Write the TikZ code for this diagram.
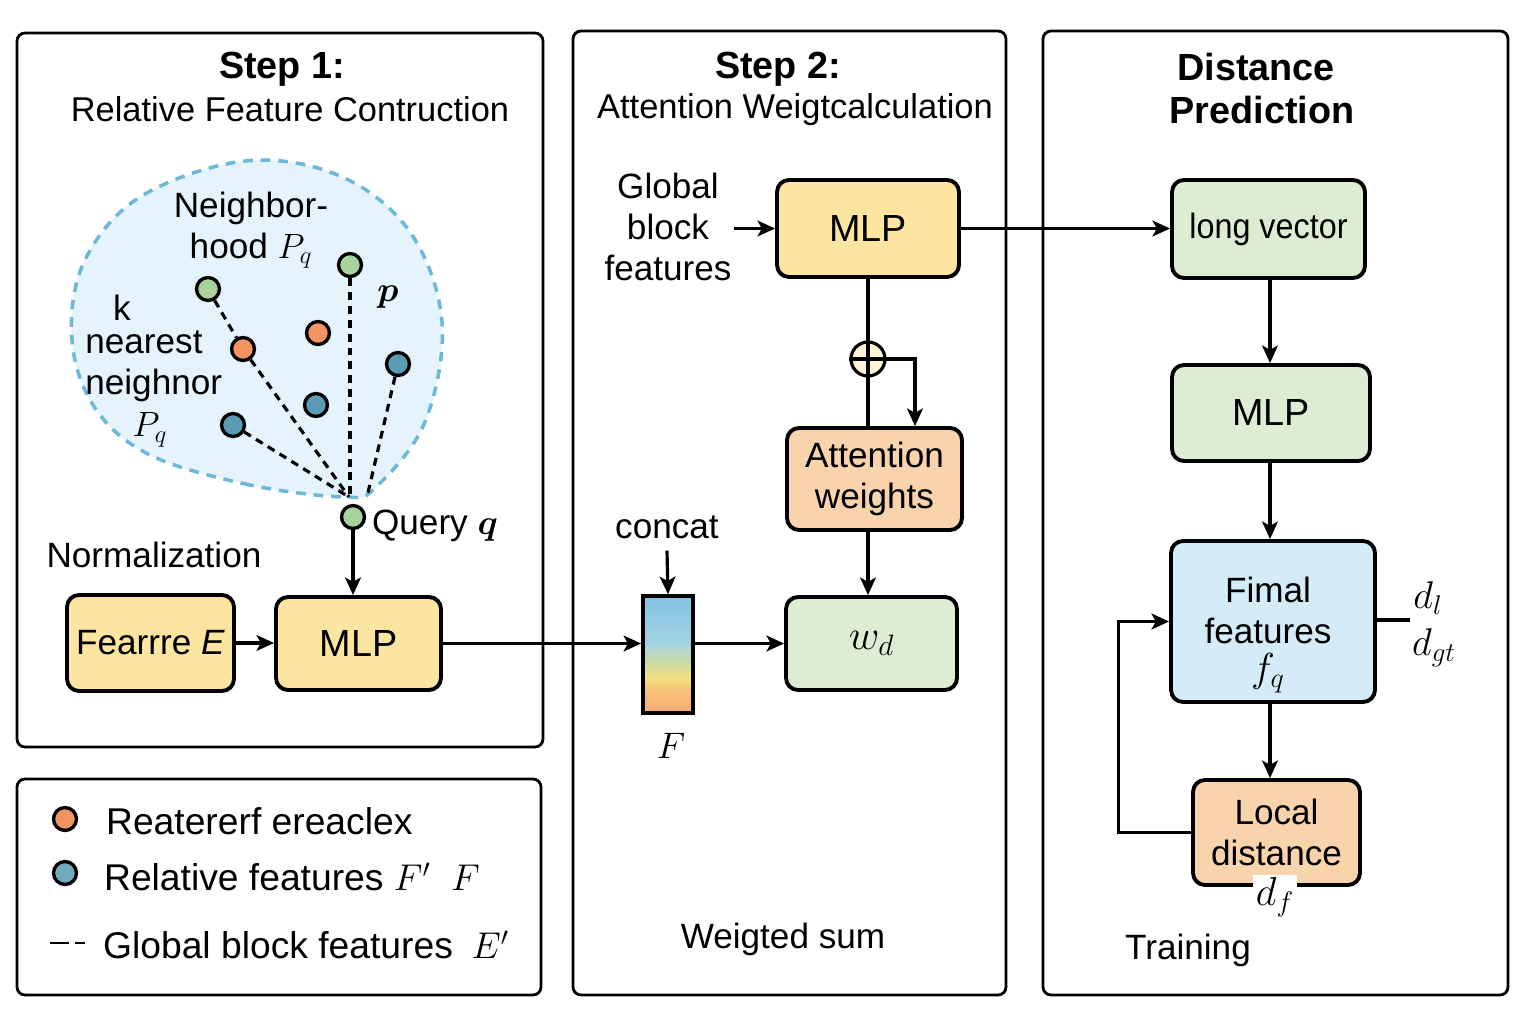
\RequirePackage{fix-cm}
\documentclass[tikz,border=0pt]{standalone}
\usepackage{amsmath}
\usepackage[no-math]{fontspec}
\setmainfont{Liberation Sans}
\usetikzlibrary{arrows.meta,calc}
\definecolor{cyel}{HTML}{FCE5A0}
\definecolor{cgrn}{HTML}{DDEDD3}
\definecolor{cblu}{HTML}{D3ECF7}
\definecolor{corg}{HTML}{F9D3AC}
\definecolor{blobfill}{HTML}{E4F3FC}
\definecolor{blobline}{HTML}{6DB7D9}
\definecolor{dgrn}{HTML}{A8D39C}
\definecolor{dorg}{HTML}{F59463}
\definecolor{dblu}{HTML}{5B9BB5}
\definecolor{barblu}{HTML}{82C3E4}
\definecolor{barblu2}{HTML}{A3D3E2}
\definecolor{bargrn}{HTML}{C9DCA6}
\definecolor{baryel}{HTML}{F5DE80}
\definecolor{barorg2}{HTML}{F8BE78}
\definecolor{barorg}{HTML}{F6A87A}
\pgfdeclareverticalshading{barshade}{100bp}{color(0bp)=(barorg); color(25bp)=(barorg); color(33bp)=(barorg2); color(40bp)=(baryel); color(47bp)=(bargrn); color(55bp)=(barblu2); color(75bp)=(barblu); color(100bp)=(barblu)}
\tikzset{
  panel/.style={draw=black, line width=1.6pt, rounded corners=0.16cm},
  box/.style={draw=black, line width=2.2pt, rounded corners=0.24cm, inner sep=0pt, align=center},
  arr/.style={line width=1.8pt, -{Stealth[length=10pt,width=9pt,inset=2.5pt]}},
  ln/.style={line width=1.8pt},
  dl/.style={line width=1.8pt, dash pattern=on 4.5pt off 3.4pt},
  dot/.style={circle, draw=black, line width=1.9pt, minimum size=0.46cm, inner sep=0pt},
  txt/.style={align=center, inner sep=1pt},
  ttl/.style={align=center, inner sep=1pt, font=\fontsize{21.5}{25}\selectfont\bfseries},
  lgd/.style={anchor=west, inner sep=1pt, font=\fontsize{21.2}{25}\selectfont}
}
\begin{document}
\begin{tikzpicture}[x=0.02cm, y=-0.02cm, font=\fontsize{20}{23.5}\selectfont]
\useasboundingbox (0,0) rectangle (1536,1024);
\fill[white] (0,0) rectangle (1536,1024);

% panels
\draw[panel] (17,33) rectangle (543,747);
\draw[panel] (17,779) rectangle (541,995);
\draw[panel] (573,31) rectangle (1006,995);
\draw[panel] (1043,31) rectangle (1508,995);

% titles
\node[ttl] (t1a) at (282,69) {Step 1:};
\node[txt, font=\fontsize{19.6}{23.5}\selectfont] (t1b) at (290,109) {Relative Feature Contruction};
\node[ttl] (t2a) at (778,69) {Step 2:};
\node[txt, font=\fontsize{19.6}{23.5}\selectfont] (t2b) at (795,110) {Attention Weigtcalculation};
\node[ttl] (t3a) at (1256,67) {Distance};
\node[ttl] (t3b) at (1262,110) {Prediction};

% blob
\draw[fill=blobfill, draw=blobline, line width=2pt, dash pattern=on 5.5pt off 4.5pt]
  plot[smooth cycle, tension=0.6] coordinates {(345,497) (250,485) (150,455) (95,408) (72,340) (84,262) (140,197) (245,161) (340,176) (410,232) (442,322) (425,422) (375,488)};

% neighborhood labels
\node[txt] (nb) at (251,230) {Neighbor-\\hood $P_q$};
\node[txt] (kl) at (122,308) {k};
\node[align=left, anchor=west, inner sep=0pt] (kn) at (85,366) {nearest\\neighnor};
\node[txt] (kp) at (150,430) {$P_q$};
\node[txt] (pl) at (388,297) {$\boldsymbol{p}$};

\coordinate (tip) at (349,497);
\coordinate (tip2) at (367,497);
\node[dot, fill=dgrn] (g1) at (208,289) {};
\node[dot, fill=dgrn] (g2) at (350,265) {};
\node[dot, fill=dorg] (o1) at (243,349) {};
\node[dot, fill=dorg] (o2) at (318,333) {};
\node[dot, fill=dblu] (b1) at (398,364) {};
\node[dot, fill=dblu] (b2) at (316,405) {};
\node[dot, fill=dblu] (b3) at (233,425) {};
\node[dot, fill=dgrn] (qd) at (353,517) {};
\draw[dl] (g1) -- (o1);
\draw[dl] (o1) -- (tip);
\draw[dl] (b3) -- (tip);
\draw[dl] (g2) -- (g2 |- tip);
\draw[dl] (b1) -- (tip2);

\node[txt, anchor=west] (ql) at (370,526) {Query $\boldsymbol{q}$};
\node[txt] (norm) at (154,555) {Normalization};

% step 1 boxes
\node[box, fill=cyel, minimum width=3.34cm, minimum height=1.92cm] (fe) at (150.5,643) {Fearrre \textit{E}};
\node[box, fill=cyel, minimum width=3.3cm, minimum height=1.86cm, font=\fontsize{21.5}{25}\selectfont] (mlp1) at (358.5,643.5) {MLP};
\draw[arr] (qd.south) -- (qd.south |- mlp1.north);
\draw[arr] (fe.east) -- (fe.east -| mlp1.west);

% step 2
\node[txt] (gbf) at (668,227) {Global\\block\\features};
\node[box, fill=cyel, minimum width=3.64cm, minimum height=1.94cm, font=\fontsize{21.5}{25}\selectfont] (mlp2) at (868,228.5) {MLP};
\node[box, fill=corg, minimum width=3.5cm, minimum height=2.04cm] (att) at (874.5,479) {Attention\\weights};
\node[box, fill=cgrn, minimum width=3.42cm, minimum height=1.86cm, font=\fontsize{24}{27}\selectfont] (wd) at (871.5,643.5) {$w_d$};
\node[draw=black, line width=2.1pt, inner sep=0pt, minimum width=1.0cm, minimum height=2.34cm,
      shading=barshade] (bar) at (668,654.5) {};
\node[txt] (cc) at (667,527) {concat};
\node[txt, font=\fontsize{21}{25}\selectfont] (fl) at (671,746) {$F$};
\node[txt] (ws) at (783,939) {Weigted sum};
\node[circle, draw=black, line width=1.8pt, fill=cyel!40, minimum size=0.68cm, inner sep=0pt] (op) at (868,359) {};

\draw[arr] (gbf.east |- mlp2.west) -- (mlp2.west);
\draw[ln] (mlp2.south) -- (mlp2.south |- att.north);
\draw[ln] (op.west) -- (op.east);
\draw[arr] (op.east) -| ([xshift=0.81cm]att.north);
\draw[arr] (cc.south) ++(0,-0.2cm) -- (bar.north);
\draw[arr] (mlp1.east) -- (mlp1.east -| bar.west);
\draw[arr] (bar.east |- wd.west) -- (wd.west);
\draw[arr] (att.south -| mlp2.south) -- (wd.north -| mlp2.south);

% step 3
\node[box, fill=cgrn, minimum width=3.86cm, minimum height=1.96cm] (lv) at (1268.5,229) {\scalebox{0.92}[1]{long vector}};
\node[box, fill=cgrn, minimum width=3.96cm, minimum height=1.92cm, font=\fontsize{21.5}{25}\selectfont] (mlp3) at (1271,413) {MLP};
\node[box, fill=cblu, minimum width=4.08cm, minimum height=3.22cm] (fin) at (1273,621.5) {};
\node[txt] (fintx) at (1268,635) {Fimal\\features\\[-2pt]{\fontsize{23}{26}\selectfont$f_q$}};
\node[box, fill=corg, minimum width=3.34cm, minimum height=2.1cm] (loc) at (1276.5,832.5) {Local\\distance};
\node[fill=white, inner sep=1.5pt, font=\fontsize{23}{26}\selectfont] (df) at (1275,897) {$d_f$};
\draw[arr] (mlp2.east) -- (mlp2.east -| lv.west);
\draw[arr] (lv.south -| 1270,0) -- (mlp3.north -| 1270,0);
\draw[arr] (mlp3.south -| 1270,0) -- (fin.north -| 1270,0);
\draw[arr] (fin.south -| 1270,0) -- (loc.north -| 1270,0);
\draw[arr] (loc.west) -- ++(-73,0) |- (fin.west);
\coordinate (dend) at (1410,620);
\draw[ln] (fin.east |- dend) -- (dend);
\node[txt, font=\fontsize{22}{26}\selectfont] (dlab) at (1428,598) {$d_l$};
\node[txt, font=\fontsize{22}{26}\selectfont] (dgt) at (1434,648) {$d_{gt}$};
\node[txt] (tr) at (1188,950) {Training};

% legend
\node[dot, fill=dorg] (lo) at (65,819) {};
\node[dot, fill=dblu!85!white] (lb) at (65,873) {};
\node[lgd] (lt1) at (104,821) {Reatererf ereaclex};
\node[lgd] (lt2) at (102,877) {Relative features $F'$\hspace{0.55em}$F$};
\coordinate (la) at (50,943);
\coordinate (lz) at (88,943);
\draw[line width=1.7pt, dash pattern=on 11pt off 3pt on 6pt off 3pt] (la) -- (lz);
\node[lgd] (lt3) at (101,945) {Global block features\enspace $E'$};
\end{tikzpicture}
\end{document}
